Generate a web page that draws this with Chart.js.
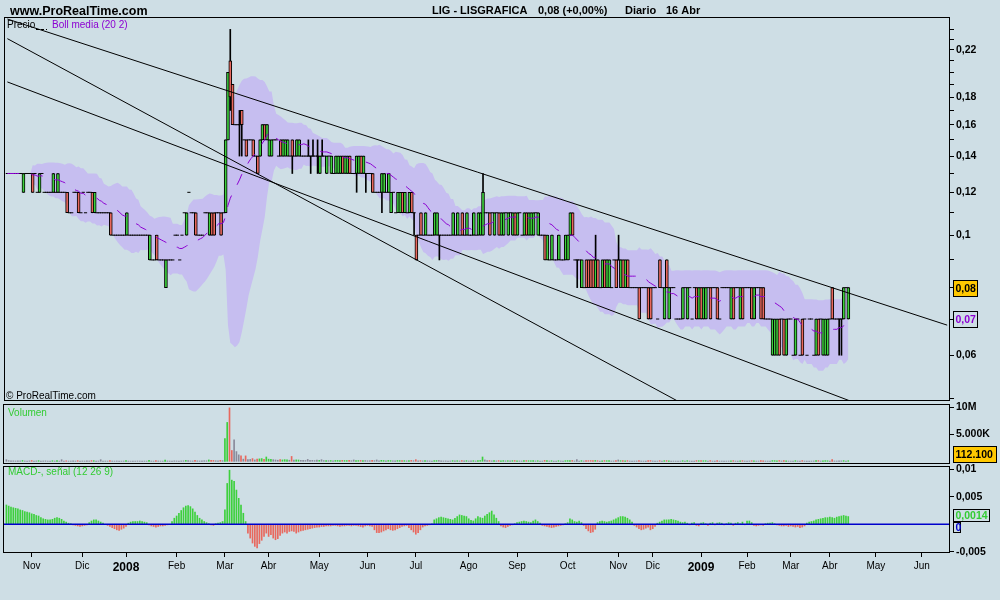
<!DOCTYPE html>
<html><head><meta charset="utf-8">
<script src="https://cdn.jsdelivr.net/npm/chart.js@4.4.1/dist/chart.umd.min.js"></script>
<style>
html,body{margin:0;padding:0;background:#cedee5;width:1000px;height:600px;overflow:hidden}
canvas{position:absolute;left:0}
</style></head><body>
<canvas id="cPrice" width="1000" height="405" style="top:0px"></canvas>
<canvas id="cVol" width="1000" height="66" style="top:400px"></canvas>
<canvas id="cMacd" width="1000" height="138" style="top:462px"></canvas>
<script>
// ---------------- DATA (prices in euro cents, one entry per trading bar) ----------------
const TITLE = 'LIG - LISGRAFICA';
const PERIOD = 'Diario';
const LAST_DATE = '16 Abr';

const openC = [
13,13,13,13,13,13,13,12,13,13, 13,13,13,12,12,13,12,12,12,12, 12,12,12,12,12,12,12,11,11,12, 12,12,11,12,11,12,12,12,11,11,
11,11,11,11,11,11,10,10,10,10, 10,10,10,10,10,10,10,10,10,10, 10,10,9,9,9,10,9,9,9,8, 9,9,9,10,10,9,10,11,10,12,
11,11,11,10,10,10,11,11,10,11, 11,11,11,11,11,11,15,21,19,16, 16,16,17,15,15,15,15,15,14,14, 14,15,16,15,14,14,15,15,14,15,
14,14,14,14,15,14,14,14,14,14, 14,14,14,14,14,14,13,14,14,13, 14,13,13,13,13,13,14,13,13,14, 13,13,13,13,14,13,13,13,13,13,
12,12,12,12,12,12,12,11,12,11, 11,11,12,11,11,11,12,11,10,10, 11,10,10,10,10,10,10,10,10,10, 10,10,10,10,10,10,10,10,11,10,
10,10,10,10,10,10,10,10,11,11, 11,11,10,11,11,10,10,11,10,11, 10,11,10,11,10,10,11,10,10,10, 11,10,10,10,10,9,9,9,9,9,
9,9,9,9,9,10,11,9,9,9, 8,8,9,9,9,9,8,9,8,8, 9,8,8,8,9,9,9,8,9,8, 9,8,8,8,8,8,8,8,8,8,
8,8,8,7,9,8,7,9,7,8, 8,7,7,7,7,8,7,8,7,8, 8,7,8,7,7,8,8,8,8,8, 7,8,8,8,8,7,8,8,8,7,
8,8,8,8,8,7,8,8,8,8, 7,7,7,6,6,6,7,7,7,6, 7,7,6,6,7,6,7,7,6,7, 7,6,6,7,7,6,6,6,7,8,
7,7,7,7,7,8,7];
const highC = [
13,13,13,13,13,13,13,13,13,13, 13,13,13,12,13,13,12,12,12,12, 13,12,13,12,12,12,12,11,11,12, 12,12,11,12,11,12,12,12,12,11,
11,11,11,11,11,11,10,10,10,10, 10,10,11,10,10,10,10,10,10,10, 10,10,10,9,9,10,9,9,9,9, 9,9,9,10,10,9,10,11,11,12,
11,11,11,10,10,10,11,11,11,11, 11,11,11,11,11,15,20,24,19,16, 16,17,17,15,15,15,15,15,14,14, 15,16,16,16,15,15,15,15,14,15,
15,15,15,14,15,14,15,15,14,14, 14,15,14,15,14,15,14,15,14,14, 14,14,13,14,14,14,14,14,14,14, 13,13,14,14,14,14,13,13,13,13,
12,12,12,13,13,12,13,12,12,11, 12,12,12,12,11,12,12,11,10,10, 11,10,11,10,10,10,11,11,10,10, 10,10,10,10,11,10,11,10,11,10,
11,10,10,11,10,11,11,13,11,11, 11,11,11,11,11,11,11,11,11,11, 11,11,11,11,10,11,11,11,11,11, 11,11,10,10,10,10,9,10,9,9,
10,9,9,10,10,11,11,9,9,9, 9,8,9,9,9,9,10,9,8,9, 9,9,9,8,9,9,10,9,9,9, 9,8,8,8,8,8,8,8,8,8,
8,8,8,7,9,8,8,9,8,8, 8,7,7,7,8,8,8,8,7,8, 8,8,8,8,8,8,8,8,8,8, 7,8,8,8,8,8,8,8,8,8,
8,8,8,8,8,8,8,8,8,8, 7,7,7,7,7,7,7,7,7,7, 7,7,6,7,7,6,7,7,6,7, 7,6,7,7,7,7,7,7,7,8,
7,7,7,7,8,8,8];
const lowC = [
13,13,13,13,13,13,13,12,13,13, 13,12,13,12,12,13,12,12,12,12, 12,12,12,12,12,12,11,11,11,12, 12,11,11,12,11,12,12,11,11,11,
11,11,11,11,11,10,10,10,10,10, 10,10,10,10,10,10,10,10,10,10, 10,10,9,9,9,9,9,9,9,8, 9,9,9,10,10,9,10,11,10,12,
11,11,10,10,10,10,11,11,10,10, 10,11,11,10,11,11,15,17,16,16, 16,14,14,15,14,15,15,14,14,13, 14,15,15,15,14,14,15,15,14,14,
14,14,14,14,13,14,14,14,14,14, 14,14,13,14,14,13,13,14,14,13, 14,13,13,13,13,13,13,13,13,13, 13,13,12,13,13,13,12,13,13,12,
12,12,12,11,12,12,12,11,12,11, 11,11,11,11,11,11,11,10,9,10, 10,10,10,10,10,10,10,10,9,10, 10,10,10,10,10,10,10,10,10,10,
10,10,10,10,10,10,10,10,11,11, 10,11,10,11,10,10,10,11,10,11, 10,10,10,11,10,10,10,10,10,10, 11,10,10,10,9,9,9,9,9,9,
9,9,9,9,9,10,10,9,8,9, 8,8,8,8,8,8,8,8,8,8, 8,8,8,8,9,8,9,8,8,8, 8,8,8,8,8,7,8,8,8,7,
7,8,8,7,8,8,7,8,7,8, 8,7,7,7,7,8,7,8,7,8, 7,7,7,7,7,8,7,8,8,7, 7,8,8,8,8,7,7,8,8,7,
7,8,8,8,7,7,8,8,7,7, 7,7,7,6,6,6,6,7,6,6, 7,7,6,6,7,6,6,7,6,7, 7,6,6,6,7,6,6,6,7,7,
7,7,6,6,7,8,7];
const closeC = [
13,13,13,13,13,13,13,13,13,13, 13,12,13,12,13,13,12,12,12,12, 13,12,13,12,12,12,11,11,11,12, 12,11,11,12,11,12,12,11,12,11,
11,11,11,11,11,10,10,10,10,10, 10,10,11,10,10,10,10,10,10,10, 10,10,10,9,9,9,9,9,9,9, 9,9,9,10,10,9,10,11,11,12,
11,11,10,10,10,10,11,11,11,10, 10,11,11,10,11,15,20,18,16,16, 16,16,16,15,14,15,15,14,14,13, 15,16,15,16,15,15,15,15,14,14,
15,15,15,14,14,14,15,15,14,14, 14,14,14,14,14,14,14,14,14,14, 14,14,13,14,14,14,13,14,14,13, 13,13,14,14,13,14,13,13,13,12,
12,12,12,13,13,12,13,12,12,11, 12,12,11,12,11,12,11,11,9,10, 10,10,11,10,10,10,11,11,10,10, 10,10,10,10,11,10,11,10,10,10,
11,10,10,11,10,11,11,12,11,11, 10,11,11,11,10,11,11,11,11,11, 11,10,11,11,10,11,10,11,11,11, 11,11,10,10,9,10,9,10,9,9,
10,9,9,10,10,11,10,9,9,9, 9,8,8,8,8,8,9,8,8,9, 8,9,9,8,9,8,9,9,8,9, 8,8,8,8,8,7,8,8,8,7,
7,8,8,7,8,8,8,8,8,8, 8,7,7,7,8,8,8,8,7,8, 7,8,7,8,8,8,7,8,8,7, 7,8,8,8,8,8,7,8,8,8,
7,8,8,8,7,8,8,8,7,7, 7,7,7,7,7,7,6,7,6,7, 7,7,6,7,7,6,6,7,6,7, 7,6,7,6,7,7,7,7,7,7,
7,7,7,7,8,8,8];
// volume in thousands of shares
const volumeK = [
300,120,90,80,60,100,70,150,60,50, 80,140,60,70,120,50,60,80,40,60, 110,50,130,40,300,60,90,40,50,70, 50,120,40,60,50,70,60,130,110,40,
50,300,60,50,40,120,50,40,60,50, 40,50,150,40,30,50,40,60,50,40, 50,40,160,50,40,140,60,50,40,220, 60,50,40,80,60,50,70,90,160,120,
70,60,200,80,60,90,110,90,250,180, 150,100,90,170,120,4200,7200,9900,2000,4000, 1800,1200,1000,400,1000,300,350,500,250,400, 450,500,350,800,400,350,300,250,200,300,
250,300,280,200,900,220,260,240,180,160, 150,350,200,180,140,220,170,300,130,150, 120,140,100,150,160,130,170,140,130,160, 110,250,150,140,160,120,140,100,110,200,
120,250,90,180,140,100,150,130,90,80, 140,130,150,120,80,130,160,110,300,100, 130,80,140,90,70,60,120,130,150,80, 60,70,50,60,120,70,110,60,130,70,
120,60,70,110,60,130,150,800,250,150, 140,80,120,70,130,110,120,80,110,70, 120,140,110,70,60,120,130,110,100,120, 70,110,60,50,160,130,60,110,50,60,
120,60,50,110,130,140,150,60,300,50, 120,60,130,120,140,130,150,120,60,110, 130,110,120,50,60,140,250,120,130,110, 130,50,40,50,60,140,50,40,60,130,
140,60,50,40,120,50,110,130,110,60, 50,40,50,40,110,60,120,50,40,60, 130,110,120,100,110,50,130,40,50,120, 40,50,60,40,50,110,120,50,40,100,
120,50,40,60,110,100,40,50,120,110, 50,40,60,130,120,110,140,60,130,110, 50,40,60,120,50,40,130,50,60,40, 50,60,120,130,50,110,120,100,60,300,
60,50,90,80,120,60,112.1];
// MACD - signal histogram, in units of 0.0001
const macdE4 = [
35,33,31,30,29,28,26,25,23,22,21,19,18,16,15,
12,10,9,8,8,9,11,12,11,9,
6,4,2,1,-1,-2,-3,-4,-3,-2,-1,
3,6,8,8,6,4,
2,0,-2,-4,
-6,-8,-10,-11,-9,-7,-4,
2,4,5,5,5,6,5,4,3,
-1,-3,-4,-5,-4,-3,-3,-2,-1,0,
5,11,15,20,25,30,33,34,32,28,22,16,11,
8,5,3,1,-1,-2,1,2,3,5,
26,74,98,80,78,62,47,35,20,5,
-16,-25,-34,-40,-43,-35,-29,-22,-16,-22,-19,-25,-28,-26,-20,-16,-14,-16,-13,-12,-13,-16,-14,-12,
-11,-10,-9,-8,-7,-6,-5,-5,-4,-4,-3,-3,-3,-2,-2,-3,-4,-3,-3,-2,-2,-3,-2,-2,
-3,-4,-5,-3,-2,-3,-4,
-10,-15,-15,-14,
-12,-10,-8,-10,-11,-10,-8,-6,-4,-3,-2,
-6,-10,-14,-18,-15,-10,-5,
-3,-2,-1,1,
8,10,12,13,12,11,10,9,8,11,14,17,16,15,14,10,7,6,10,14,12,11,15,18,21,24,17,11,5,
-3,-5,-6,-4,-2,-1,1,
3,4,5,6,5,4,3,6,8,5,2,
-2,-3,-4,-5,-6,-5,-4,-3,-2,-1,1,3,
10,8,5,4,6,3,-2,
-8,-12,-15,-14,-9,
3,5,6,5,4,5,6,8,
10,12,14,14,13,11,8,4,
-2,-5,-8,-10,-9,-7,-5,-10,-8,-4,
2,4,6,8,8,8,9,8,7,6,4,
3,4,2,-1,2,3,-2,-3,2,3,1,-2,2,3,-1,2,3,
2,-1,1,3,2,-2,2,3,1,4,-1,6,
6,3,-2,-3,-2,-1,-2,1,2,2,3,1,-1,
-2,-3,-3,-2,-4,-3,-4,-5,-4,-6,-5,-3,
2,4,5,6,8,9,10,11,12,12,13,12,11,13,14,15,16,15,14];

// first bar index of each month, and its label
const monthIdx = [11,33,52,74,95,114,136,157,178,201,222,244,266,281,302,322,341,358,378,398];
const monthLbl = ['Nov','Dic','2008','Feb','Mar','Abr','May','Jun','Jul','Ago','Sep','Oct','Nov','Dic','2009','Feb','Mar','Abr','May','Jun'];

// axis ticks
const priceTickVals = [0.05,0.06,0.07,0.08,0.09,0.10,0.11,0.12,0.13,0.14,0.15,0.16,0.17,0.18,0.19,0.20,0.21,0.22,0.23,0.24];
const priceLabelVals = [0.06,0.08,0.10,0.12,0.14,0.16,0.18,0.22];
const volTickVals = [5000000,10000000];
const volTickLbl = ['5.000K','10M'];
const macdTickVals = [-0.005,0.005,0.01];
const macdTickLbl = ['-0,005','0,005','0,01'];

// drawn trend lines: [bar index, price]
const trendA = [[0,0.2508],[409,0.0682]];
const trendB = [[0,0.2307],[300,0.04726]];
const trendC = [[0,0.1919],[380,0.04704]];

const BOLL_N = 20, BOLL_K = 2;

// ---------------- BUILD ----------------
const FONT = '"Liberation Sans", Arial, Helvetica, sans-serif';
Chart.defaults.font.family = FONT;
Chart.defaults.color = '#000';
const X_MIN = -1.04, X_MAX = 409.8;
const P_MIN = 0.0496, P_MAX = 0.2519;
const COL = {green:'#3dd03d', red:'#e8685e', gray:'#8a8a9a', band:'#c6bef0', purple:'#8c00d2', blue:'#0000cc', yellow:'#ffc800', txtGreen:'#33cc33'};

function fmtNum(v, dec){ return parseFloat(v.toFixed(dec)).toString().replace('.', ','); }
function group3(n){ return String(Math.round(n)).replace(/\B(?=(\d{3})+(?!\d))/g,'.'); }

const N = closeC.length;
const closeP = closeC.map(c=>c/100);
const sma=[], up=[], dn=[];
for (let i=0;i<N;i++){
  const w = closeP.slice(Math.max(0,i-BOLL_N+1), i+1);
  const m = w.reduce((a,b)=>a+b,0)/w.length;
  const sd = Math.sqrt(w.reduce((a,b)=>a+(b-m)*(b-m),0)/w.length);
  sma.push({x:i,y:m}); up.push({x:i,y:m+BOLL_K*sd}); dn.push({x:i,y:m-BOLL_K*sd});
}
const bodies=[], bodyCol=[], dojis=[], wicks=[];
for (let i=0;i<N;i++){
  const o=openC[i]/100, c=closeC[i]/100, h=highC[i]/100, l=lowC[i]/100;
  if (highC[i]>lowC[i]) wicks.push({x:i,y:[l,h]});
  if (openC[i]===closeC[i]) dojis.push({x:i,y:c});
  else { bodies.push({x:i,y:[o,c]}); bodyCol.push(closeC[i]>openC[i]?COL.green:COL.red); }
}
const volData = volumeK.map((v,i)=>({x:i,y:v*1000}));
const volCol = volumeK.map((v,i)=> closeC[i]>openC[i]?COL.green:(closeC[i]<openC[i]?COL.red:COL.gray));
const macdData = macdE4.map((v,i)=>({x:i,y:v/10000}));
const macdCol = macdE4.map(v=> v>0?COL.green:(v<0?COL.red:COL.gray));

const lastClose = closeP[N-1], prevClose = closeP[N-2];
const pct = (lastClose-prevClose)/prevClose*100;
const hdrPrice = fmtNum(lastClose,2)+' ('+(pct>=0?'+':'')+pct.toFixed(2).replace('.',',')+'%)';

const framePlugin = {id:'frame', afterDraw(chart){
  const {ctx, chartArea:a} = chart; ctx.save(); ctx.strokeStyle='#000'; ctx.lineWidth=1;
  ctx.strokeRect(Math.round(a.left)-0.5, Math.round(a.top)-0.5, Math.round(a.right-a.left)+1, Math.round(a.bottom-a.top)+1);
  ctx.restore();
}};
function badge(ctx, x, yc, text, o){
  const h=o.h||16, w=o.w; ctx.save(); ctx.font=o.font||('bold 10.5px '+FONT);
  const top=Math.round(yc-h/2)+0.5;
  if (o.bg){ ctx.fillStyle=o.bg; ctx.fillRect(x+0.5, top, w, h); }
  ctx.strokeStyle='#000'; ctx.lineWidth=1; ctx.strokeRect(x+0.5, top, w, h);
  ctx.fillStyle=o.fg; ctx.textBaseline='middle'; ctx.textAlign='left'; ctx.fillText(text, x+2.5, top+h/2+0.5);
  ctx.restore();
}
function yAxisCommon(extra){
  return Object.assign({position:'right',
    afterFit:s=>{ s.width=51; s.paddingTop=0; s.paddingBottom=0; },
    grid:{drawOnChartArea:false, drawTicks:true, tickLength:5, color:'#000', offset:false},
    border:{display:true, color:'#000'}}, extra);
}
const tickFont = {size:10.5, weight:'bold'};

const pricePlugin = {id:'priceDeco', afterDraw(chart){
  const ctx=chart.ctx, ys=chart.scales.y; ctx.save();
  ctx.fillStyle='#000'; ctx.textBaseline='alphabetic'; ctx.textAlign='left';
  ctx.font='bold 12.5px '+FONT; ctx.fillText('www.ProRealTime.com', 10, 14.5);
  ctx.font='bold 11px '+FONT;
  ctx.fillText(TITLE, 432, 13.5); ctx.fillText(hdrPrice, 538, 13.5);
  ctx.fillText(PERIOD, 625, 13.5); ctx.fillText(LAST_DATE, 666, 13.5);
  ctx.font='10px '+FONT; ctx.fillText('Precio', 7, 28);
  ctx.strokeStyle='#000'; ctx.lineWidth=1; ctx.setLineDash([3,2]);
  ctx.beginPath(); ctx.moveTo(36,29.5); ctx.lineTo(47,29.5); ctx.stroke(); ctx.setLineDash([]);
  ctx.fillStyle=COL.purple; ctx.fillText('Boll media (20 2)', 52, 28);
  ctx.fillStyle='#000'; ctx.fillText('\u00a9 ProRealTime.com', 6, 399);
  ctx.restore();
  badge(ctx, 953, ys.getPixelForValue(lastClose), fmtNum(lastClose,2), {bg:COL.yellow, fg:'#000', w:24});
  const lastSma = sma[N-1].y;
  badge(ctx, 953, ys.getPixelForValue(lastSma), fmtNum(lastSma,2), {bg:null, fg:COL.purple, w:24});
}};

const lineDs = (pts)=>({type:'line', data:pts.map(p=>({x:p[0],y:p[1]})), borderColor:'#000', borderWidth:1, pointRadius:0, fill:false, order:3});
const hiddenX = {type:'linear', min:X_MIN, max:X_MAX, display:false, offset:false, grid:{offset:false}};

new Chart(document.getElementById('cPrice'), {
  type:'bar',
  data:{datasets:[
    {type:'line', data:up, borderWidth:0, pointRadius:0, fill:'+1', backgroundColor:COL.band, borderColor:'rgba(0,0,0,0)', order:10},
    {type:'line', data:dn, borderWidth:0, pointRadius:0, fill:false, borderColor:'rgba(0,0,0,0)', order:10},
    {type:'bar', data:wicks, backgroundColor:'#000', barThickness:1, grouped:false, order:7},
    {type:'bar', data:bodies, backgroundColor:bodyCol, borderColor:'#000', borderWidth:1, borderSkipped:false, barThickness:3, grouped:false, order:6},
    {type:'scatter', data:dojis, pointStyle:'line', pointRadius:1.6, borderColor:'#000', borderWidth:1, order:5},
    {type:'line', data:sma, borderColor:COL.purple, borderWidth:1, borderDash:[12,12], pointRadius:0, fill:false, order:4},
    lineDs(trendA), lineDs(trendB), lineDs(trendC)
  ]},
  options:{responsive:false, animation:false, devicePixelRatio:1,
    layout:{padding:{left:4, right:0, top:18, bottom:3}},
    plugins:{legend:{display:false}, tooltip:{enabled:false}},
    scales:{
      x:hiddenX,
      y:yAxisCommon({type:'logarithmic', min:P_MIN, max:P_MAX,
        afterBuildTicks:s=>{s.ticks=priceTickVals.map(v=>({value:v}));},
        ticks:{autoSkip:false, padding:2, font:tickFont,
          callback:v=> priceLabelVals.some(p=>Math.abs(p-v)<1e-6) ? fmtNum(v,2) : ''}})
    }},
  plugins:[framePlugin, pricePlugin]
});

const volPlugin = {id:'volDeco', afterDraw(chart){
  const ctx=chart.ctx, ys=chart.scales.y, a=chart.chartArea; ctx.save();
  ctx.font='10px '+FONT; ctx.fillStyle=COL.txtGreen; ctx.textBaseline='alphabetic'; ctx.fillText('Volumen', 8, 16);
  ctx.restore();
  const lv = volumeK[N-1]*1000;
  badge(ctx, 953, Math.min(ys.getPixelForValue(lv), a.bottom-9), group3(lv), {bg:COL.yellow, fg:'#000', w:43});
}};
new Chart(document.getElementById('cVol'), {
  type:'bar',
  data:{datasets:[{data:volData, backgroundColor:volCol, barThickness:1, grouped:false}]},
  options:{responsive:false, animation:false, devicePixelRatio:1,
    layout:{padding:{left:4, right:0, top:5, bottom:3}},
    plugins:{legend:{display:false}, tooltip:{enabled:false}},
    scales:{
      x:hiddenX,
      y:yAxisCommon({type:'linear', min:-315000, max:10430000,
        afterBuildTicks:s=>{s.ticks=volTickVals.map(v=>({value:v}));},
        ticks:{autoSkip:false, padding:2, font:tickFont, callback:(v)=>volTickLbl[volTickVals.indexOf(v)] ?? ''}})
    }},
  plugins:[framePlugin, volPlugin]
});

const macdPlugin = {id:'macdDeco', afterDraw(chart){
  const ctx=chart.ctx, ys=chart.scales.y; ctx.save();
  ctx.font='10px '+FONT; ctx.fillStyle=COL.txtGreen; ctx.textBaseline='alphabetic'; ctx.fillText('MACD-, se\u00f1al (12 26 9)', 8, 13);
  ctx.restore();
  const lm = macdE4[N-1]/10000;
  badge(ctx, 953, ys.getPixelForValue(lm)-2, fmtNum(lm,4), {fg:COL.txtGreen, w:36, h:12});
  badge(ctx, 953, ys.getPixelForValue(0)+2.5, '0', {fg:COL.blue, w:7, h:10});
}};
new Chart(document.getElementById('cMacd'), {
  type:'bar',
  data:{datasets:[
    {type:'line', data:[{x:X_MIN,y:0},{x:X_MAX,y:0}], borderColor:COL.blue, borderWidth:1.5, pointRadius:0, fill:false, order:1},
    {data:macdData, backgroundColor:macdCol, barThickness:1, grouped:false, order:2}
  ]},
  options:{responsive:false, animation:false, devicePixelRatio:1,
    layout:{padding:{left:4, right:0, top:5, bottom:26}},
    plugins:{legend:{display:false}, tooltip:{enabled:false}},
    scales:{
      x:{type:'linear', min:X_MIN, max:X_MAX, offset:false, position:'bottom',
        afterFit:s=>{ s.height=22; s.paddingLeft=0; s.paddingRight=0; },
        afterBuildTicks:s=>{s.ticks=monthIdx.map(v=>({value:v}));},
        grid:{drawOnChartArea:false, drawTicks:true, tickLength:5, color:'#000', offset:false},
        border:{display:true, color:'#000'},
        ticks:{autoSkip:false, maxRotation:0, minRotation:0, padding:3,
          callback:(v,i)=>monthLbl[i],
          font:(ctx)=>{ const y=/^\d{4}$/.test(monthLbl[ctx.index]||''); return {size:y?12:10, weight:y?'bold':'normal'}; }}},
      y:yAxisCommon({type:'linear', min:-0.00502, max:0.01038,
        afterBuildTicks:s=>{s.ticks=macdTickVals.map(v=>({value:v}));},
        ticks:{autoSkip:false, padding:2, font:tickFont, callback:(v)=>{const k=macdTickVals.findIndex(t=>Math.abs(t-v)<1e-9); return k>=0?macdTickLbl[k]:'';}}})
    }},
  plugins:[framePlugin, macdPlugin]
});
</script>
</body></html>
